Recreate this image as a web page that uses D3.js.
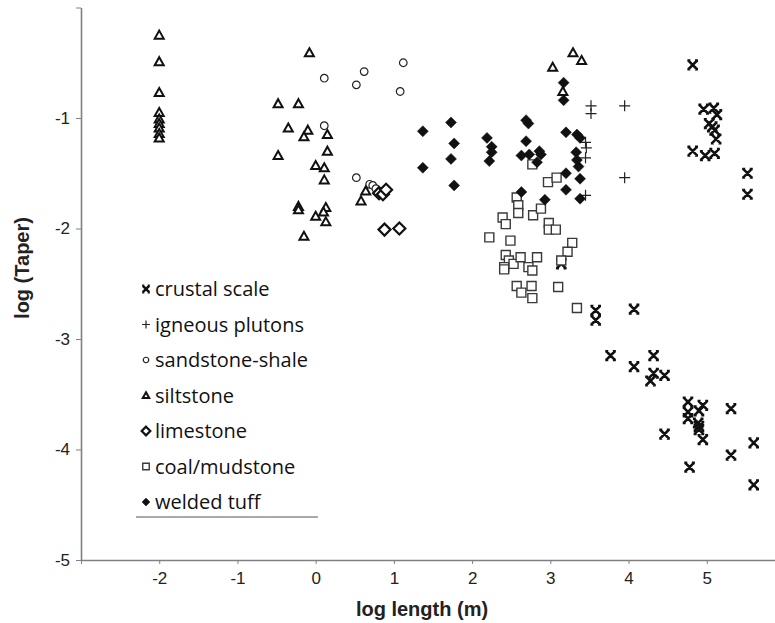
<!DOCTYPE html>
<html>
<head>
<meta charset="utf-8">
<script src="https://cdn.jsdelivr.net/npm/d3@7"></script>
<style>
  body { margin: 0; background: #fff; }
  svg { display: block; }
  .tick text { font-family: "Liberation Sans", Arial, sans-serif; font-size: 17px; fill: #222; }
  .axis-title { font-family: "Liberation Sans", Arial, sans-serif; font-size: 20px; font-weight: bold; fill: #222; }
  .legend text { font-family: "Open Sans", sans-serif; font-size: 20px; fill: #111; }
</style>
</head>
<body>
<svg id="chart" width="775" height="623"></svg>
<script>
// ---- data: [log length (m), log taper] ----
var crustalScale = [
  [3.14,-2.32],[3.58,-2.74],[3.58,-2.83],[4.07,-2.73],[3.77,-3.15],[4.32,-3.15],
  [4.07,-3.25],[4.32,-3.31],[4.28,-3.38],[4.46,-3.33],[4.76,-3.57],[4.95,-3.60],
  [4.76,-3.66],[4.90,-3.65],[4.76,-3.72],[4.89,-3.76],[4.90,-3.79],[4.90,-3.82],
  [4.95,-3.91],[5.31,-3.63],[4.46,-3.86],[5.31,-4.05],[4.78,-4.16],[5.60,-3.94],
  [5.60,-4.32],
  [4.82,-0.52],[4.96,-0.92],[5.09,-0.91],[5.13,-0.97],[5.03,-1.05],[5.07,-1.08],
  [5.10,-1.11],[5.12,-1.19],[4.82,-1.30],[4.98,-1.34],[5.10,-1.32],[5.52,-1.50],
  [5.52,-1.69]
];
var igneousPlutons = [
  [3.52,-0.89],[3.52,-0.96],[3.95,-0.89],[3.45,-1.22],[3.46,-1.27],[3.45,-1.36],
  [3.95,-1.54],[3.45,-1.70]
];
var sandstoneShale = [
  [0.11,-0.64],[0.62,-0.58],[0.52,-0.70],[1.12,-0.50],[1.08,-0.76],[0.11,-1.07],
  [0.52,-1.54],[0.69,-1.60],[0.73,-1.61],[0.77,-1.64]
];
var siltstone = [
  [-2.0,-0.25],[-2.0,-0.49],[-2.0,-0.77],[-2.0,-0.95],[-2.0,-1.01],[-2.0,-1.05],
  [-2.0,-1.09],[-2.0,-1.14],[-2.0,-1.18],
  [-0.08,-0.41],[-0.48,-0.87],[-0.22,-0.87],[-0.35,-1.09],[-0.10,-1.11],[-0.15,-1.17],
  [0.15,-1.15],[-0.48,-1.34],[0.15,-1.30],[0.00,-1.43],[0.11,-1.45],[0.11,-1.56],
  [-0.22,-1.80],[-0.22,-1.83],[0.13,-1.81],[0.10,-1.85],[0.00,-1.89],[0.13,-1.94],
  [-0.15,-2.07],[0.58,-1.75],[0.64,-1.66],
  [3.03,-0.54],[3.29,-0.41],[3.40,-0.48],[3.16,-0.76]
];
var limestone = [
  [0.81,-1.68],[0.86,-1.69],[0.90,-1.65],[0.88,-2.01],[1.07,-2.00]
];
var coalMudstone = [
  [2.77,-1.42],[2.97,-1.58],[3.08,-1.54],[2.57,-1.72],[2.59,-1.79],[2.59,-1.86],
  [2.78,-1.88],[2.88,-1.82],[2.39,-1.90],[2.43,-1.96],[2.22,-2.08],[2.49,-2.11],
  [2.98,-1.95],[2.98,-2.01],[3.07,-2.01],[3.28,-2.13],[3.22,-2.21],[3.14,-2.29],
  [2.43,-2.24],[2.47,-2.29],[2.41,-2.35],[2.41,-2.37],[2.53,-2.32],[2.62,-2.26],
  [2.83,-2.26],[2.72,-2.35],[2.77,-2.38],[2.57,-2.52],[2.63,-2.58],[2.76,-2.52],
  [2.77,-2.63],[3.10,-2.53],[3.34,-2.72]
];
var weldedTuff = [
  [1.37,-1.12],[1.37,-1.45],[1.73,-1.04],[1.77,-1.23],[1.73,-1.37],[1.77,-1.61],
  [2.19,-1.18],[2.25,-1.26],[2.25,-1.31],[2.22,-1.39],[2.69,-1.02],[2.72,-1.05],
  [2.69,-1.21],[2.63,-1.34],[2.73,-1.33],[2.86,-1.30],[2.88,-1.33],[2.83,-1.40],
  [2.63,-1.67],[2.93,-1.74],[3.17,-0.68],[3.17,-0.84],[3.20,-1.13],[3.34,-1.15],
  [3.38,-1.18],[3.33,-1.31],[3.34,-1.38],[3.36,-1.44],[3.20,-1.50],[3.38,-1.55],
  [3.20,-1.65],[3.38,-1.73]
];

var xTicks = [-3, -2, -1, 0, 1, 2, 3, 4, 5];
var yTicks = [-5, -4, -3, -2, -1, 0];

var seriesNames = ["crustal scale", "igneous plutons", "sandstone-shale", "siltstone",
                   "limestone", "coal/mudstone", "welded tuff"];
var seriesData = [crustalScale, igneousPlutons, sandstoneShale, siltstone,
                  limestone, coalMudstone, weldedTuff];
var seriesKinds = ["xmark", "plus", "circle", "triangle", "diamond", "square", "filled"];

// ---- marker shapes ----
function markerPath(kind, k){
  var s = k || 1;
  if (kind === "xmark"){
    var a = 4.3 * s, c = 2 * s;
    return "M" + (-a) + "," + (-a) + "L" + a + "," + a + "M" + a + "," + (-a) + "L" + (-a) + "," + a +
           "M" + (-a - c/2) + "," + (-a) + "H" + (-a + c) + "M" + (a - c) + "," + (-a) + "H" + (a + c/2) +
           "M" + (-a - c/2) + "," + a + "H" + (-a + c) + "M" + (a - c) + "," + a + "H" + (a + c/2);
  }
  if (kind === "plus"){
    var p = 5.5 * s;
    return "M" + (-p) + ",0H" + p + "M0," + (-p) + "V" + p;
  }
  if (kind === "triangle"){
    var w = 4.5 * s;
    return "M0," + (-4.5 * s) + "L" + w + "," + (3.5 * s) + "L" + (-w) + "," + (3.5 * s) + "Z";
  }
  if (kind === "diamond"){
    var dd = 6 * s;
    return "M0," + (-dd) + "L" + dd + ",0L0," + dd + "L" + (-dd) + ",0Z";
  }
  if (kind === "filled"){
    var f = 5.5 * s;
    return "M0," + (-f) + "L" + f + ",0L0," + f + "L" + (-f) + ",0Z";
  }
  if (kind === "square"){
    var q = 4.5 * s;
    return "M" + (-q) + "," + (-q) + "H" + q + "V" + q + "H" + (-q) + "Z";
  }
  // circle
  var r = 3.8 * s;
  return "M" + r + ",0A" + r + "," + r + " 0 1,1 " + (-r) + ",0A" + r + "," + r + " 0 1,1 " + r + ",0Z";
}

function markerStyle(sel, kind){
  var styles = {
    xmark:    {fill: "none", stroke: "#111", w: 2.6},
    plus:     {fill: "none", stroke: "#222", w: 1.2},
    circle:   {fill: "#fff", stroke: "#222", w: 1.2},
    triangle: {fill: "#fff", stroke: "#111", w: 2},
    diamond:  {fill: "#fff", stroke: "#111", w: 2.2},
    square:   {fill: "#fff", stroke: "#3a3a3a", w: 1.4},
    filled:   {fill: "#111", stroke: "#111", w: 0.5}
  };
  var st = styles[kind];
  sel.attr("fill", st.fill).attr("stroke", st.stroke).attr("stroke-width", st.w);
}

// ---- chart ----
var svg = d3.select("#chart");

var x = d3.scaleLinear().domain([-3, 6]).range([81, 785]);
var y = d3.scaleLinear().domain([-5, 0]).range([560, 7.5]);

var xAxis = d3.axisBottom(x).tickValues(xTicks).tickSize(4).tickSizeOuter(0)
  .tickFormat(function(d){ return d === -3 ? "" : d; });
var yAxis = d3.axisLeft(y).tickValues(yTicks).tickSize(5).tickSizeOuter(0)
  .tickFormat(function(d){ return d === 0 ? "" : d; });

var gx = svg.append("g").attr("transform", "translate(0,560)").call(xAxis);
var gy = svg.append("g").attr("transform", "translate(81,0)").call(yAxis);

[gx, gy].forEach(function(g){
  g.select(".domain").attr("stroke", "#808080").attr("stroke-width", 1.6);
  g.selectAll(".tick line").attr("stroke", "#808080").attr("stroke-width", 1);
});
gx.selectAll(".tick text").attr("dy", "0.95em").attr("y", 8);
gy.selectAll(".tick text").attr("x", -11);

// points
seriesData.forEach(function(data, i){
  var kind = seriesKinds[i];
  svg.append("g")
    .selectAll("path")
    .data(data)
    .join("path")
    .attr("d", markerPath(kind, 1))
    .attr("transform", function(d){ return "translate(" + x(d[0]) + "," + y(d[1]) + ")"; })
    .call(markerStyle, kind);
});

// axis titles
svg.append("text").attr("class", "axis-title")
  .attr("x", 422).attr("y", 616).attr("text-anchor", "middle")
  .text("log length (m)");
svg.append("text").attr("class", "axis-title")
  .attr("transform", "translate(29,268) rotate(-90)").attr("text-anchor", "middle")
  .text("log (Taper)");

// legend
var legend = svg.append("g").attr("class", "legend");
var legendY = d3.scaleLinear().domain([0, 6]).range([289, 502]);
seriesNames.forEach(function(name, i){
  var ly = legendY(i);
  legend.append("path")
    .attr("d", markerPath(seriesKinds[i], 0.72))
    .attr("transform", "translate(146," + ly + ")")
    .call(markerStyle, seriesKinds[i]);
  legend.append("text").attr("x", 155).attr("y", ly + 7).text(name);
});
legend.append("line")
  .attr("x1", 136).attr("x2", 318).attr("y1", 517).attr("y2", 517)
  .attr("stroke", "#555").attr("stroke-width", 1);
</script>
</body>
</html>
